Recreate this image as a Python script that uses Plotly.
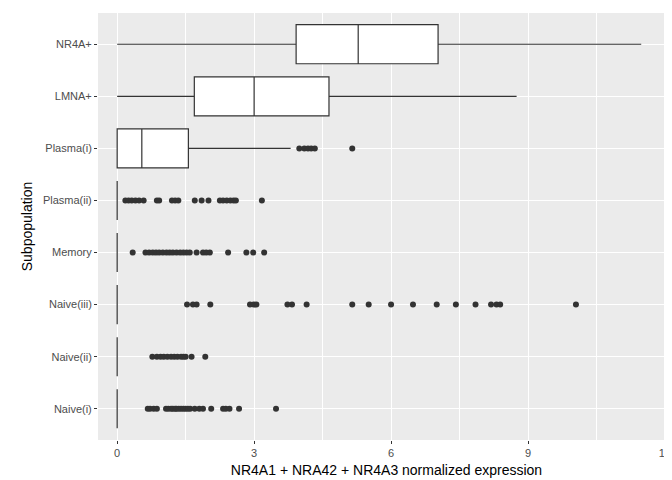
import plotly.graph_objects as go

groups = ["Naive(i)", "Naive(ii)", "Naive(iii)", "Memory", "Plasma(ii)", "Plasma(i)", "LMNA+", "NR4A+"]
q1 = [0, 0, 0, 0, 0, 0, 1.69, 3.92]
median = [0, 0, 0, 0, 0, 0.54, 3.0, 5.28]
q3 = [0, 0, 0, 0, 0, 1.56, 4.64, 7.03]
lowf = [0, 0, 0, 0, 0, 0, 0, 0]
upf = [0, 0, 0, 0, 0, 3.80, 8.75, 11.48]

outliers = {
    "Naive(i)": [0.67, 0.72, 0.8, 0.87, 1.07, 1.12, 1.18, 1.22, 1.27, 1.3, 1.35, 1.4, 1.45, 1.5, 1.55, 1.6, 1.7, 1.8, 1.88, 2.06, 2.32, 2.38, 2.46, 2.67, 3.48],
    "Naive(ii)": [0.77, 0.87, 0.95, 1.02, 1.1, 1.18, 1.25, 1.32, 1.4, 1.45, 1.5, 1.63, 1.93],
    "Naive(iii)": [1.53, 1.66, 1.74, 2.04, 2.91, 2.99, 3.05, 3.73, 3.83, 4.15, 5.15, 5.51, 6.0, 6.48, 7.0, 7.42, 7.85, 8.19, 8.31, 8.39, 10.05],
    "Memory": [0.34, 0.62, 0.7, 0.78, 0.85, 0.92, 1.0, 1.08, 1.15, 1.22, 1.3, 1.38, 1.45, 1.52, 1.59, 1.74, 1.88, 1.95, 2.03, 2.43, 2.83, 2.98, 3.22],
    "Plasma(ii)": [0.18, 0.25, 0.32, 0.4, 0.48, 0.58, 0.87, 0.92, 1.2, 1.27, 1.34, 1.7, 1.85, 2.0, 2.25, 2.32, 2.4, 2.48, 2.55, 2.6, 3.17],
    "Plasma(i)": [3.99, 4.1, 4.18, 4.25, 4.33, 5.15],
    "LMNA+": [],
    "NR4A+": [],
}

fig = go.Figure()
fig.add_trace(go.Box(
    y=groups, q1=q1, median=median, q3=q3, lowerfence=lowf, upperfence=upf,
    orientation="h", fillcolor="white", line=dict(color="#333333", width=1.2),
    whiskerwidth=0, width=0.75, boxpoints=False, showlegend=False, hoverinfo="skip"))

ox, oy = [], []
for g in groups:
    for v in outliers[g]:
        ox.append(v)
        oy.append(g)
fig.add_trace(go.Scatter(x=ox, y=oy, mode="markers",
                         marker=dict(color="#333333", size=6), showlegend=False))

fig.update_layout(
    width=672, height=480, margin=dict(l=90, r=5, t=5, b=48, autoexpand=False),
    paper_bgcolor="white", plot_bgcolor="#ebebeb",
    font=dict(family="Liberation Sans, Arial", color="black"))
fig.update_xaxes(range=[-0.42, 12.22], tickvals=[0, 3, 6, 9, 12], zeroline=False,
                 automargin=False,
                 gridcolor="white", gridwidth=1.2, ticks="outside", ticklen=3,
                 tickcolor="#333333", tickfont=dict(size=11, color="#4d4d4d"),
                 minor=dict(showgrid=True, tick0=1.5, dtick=3, gridcolor="white", gridwidth=0.5),
                 title=dict(text="NR4A1 + NRA42 + NR4A3 normalized expression", font=dict(size=14), standoff=6))
fig.update_yaxes(categoryorder="array", categoryarray=groups, range=[-0.6, 7.6],
                 automargin=False,
                 gridcolor="white", gridwidth=1.2, ticks="outside", ticklen=3,
                 tickcolor="#333333", tickfont=dict(size=11, color="#4d4d4d"),
                 title=dict(text="Subpopulation", font=dict(size=14), standoff=6))

fig.write_html("out.html")
